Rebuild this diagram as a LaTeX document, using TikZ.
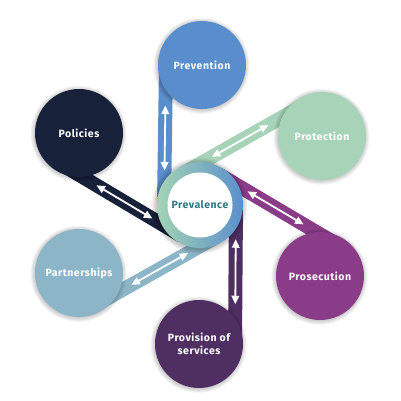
\documentclass[tikz,border=0pt]{standalone}
\usepackage{fontspec}
\setmainfont{Fira Sans}
\newfontfamily\lab[LetterSpace=5]{Fira Sans}
\usetikzlibrary{calc,arrows.meta}
\definecolor{cPrev}{HTML}{5A8DCB}
\definecolor{cPol}{HTML}{17213A}
\definecolor{cProt}{HTML}{A7D3B8}
\definecolor{cPart}{HTML}{8CB6C7}
\definecolor{cPros}{HTML}{8A3C88}
\definecolor{cProv}{HTML}{4F2F61}
\definecolor{cText}{HTML}{2C7A82}
\definecolor{ringG}{HTML}{A3D4B6}
\definecolor{ringM}{HTML}{86BCC2}
\definecolor{ringB}{HTML}{5B8FCB}
\begin{document}
\begin{tikzpicture}[x=1pt,y=-1pt,
  band/.style={line width=14pt},
  dblarrow/.style={white, line width=1.8pt, {Triangle[width=7.5pt,length=8.5pt]}-{Triangle[width=7.5pt,length=8.5pt]}},
  bubble/.style={circle, minimum size=88pt, inner sep=0pt, text=white,
     font=\lab\bfseries\fontsize{10.5}{13}\selectfont, align=center},
  hub/.style={circle, minimum size=65pt, inner sep=0pt, text=cText,
     font=\lab\bfseries\fontsize{10.5}{13}\selectfont}]
\useasboundingbox (0,0) rectangle (400,401);
\fill[white] (0,0) rectangle (400,401);
% positions
\coordinate (C) at (200,205);
\coordinate (pPrev) at (202,65);
\coordinate (pPol) at (79,133);
\coordinate (pProt) at (322,136);
\coordinate (pPart) at (79,273);
\coordinate (pPros) at (320,276);
\coordinate (pProv) at (199,344);
% bands
\foreach \p/\col in {pPrev/cPrev,pPol/cPol,pProt/cProt,pPart/cPart,pPros/cPros,pProv/cProv}{
  \coordinate (a\p) at ($(C)!36pt!90:(\p)$);
  \coordinate (b\p) at ($(\p)!36pt!-90:(C)$);
  \draw[band, \col] (a\p) -- (b\p);
}
% shadows of bubbles
\foreach \p in {pPrev,pPol,pProt,pPart,pPros,pProv,C}{
  \foreach \k in {1,2,3,4,5}{
    \fill[black, opacity=0.045] ($(\p)+(-0.5,0.8)$) circle ({43+\k});
  }
}
% bubbles
\node[bubble, fill=cPrev] (prev) at (pPrev) {Prevention};
\node[bubble, fill=cPol] (pol) at (pPol) {Policies};
\node[bubble, fill=cProt] (prot) at (pProt) {Protection};
\node[bubble, fill=cPart] (part) at (pPart) {Partnerships};
\node[bubble, fill=cPros] (pros) at (pPros) {Prosecution};
\node[bubble, fill=cProv] (prov) at (pProv) {Provision of\\services};
% hub ring
\shade[left color=ringG, middle color=ringM, right color=ringB] (C) circle (43);
\node[hub, fill=white] (hub) at (C) {Prevalence};
% arrows
\foreach \p in {pPrev,pPol,pProt,pPart,pPros,pProv}{
  \coordinate (s\p) at ($(a\p)!34pt!(b\p)$);
  \coordinate (e\p) at ($(a\p)!99pt!(b\p)$);
  \draw[dblarrow] (s\p) -- (e\p);
}
\end{tikzpicture}
\end{document}
